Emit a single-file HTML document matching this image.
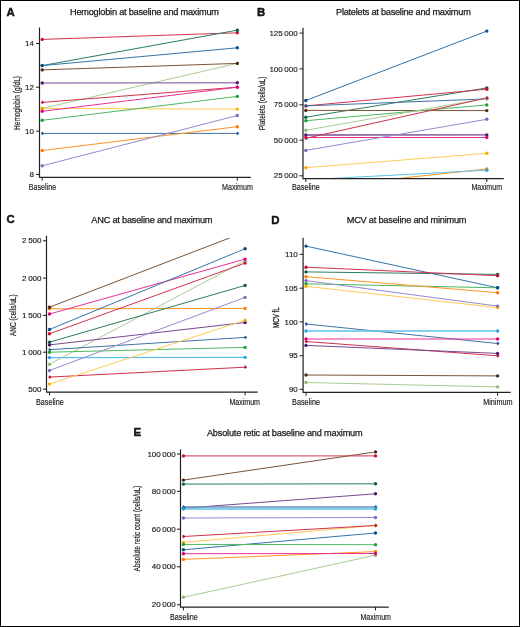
<!DOCTYPE html><html><head><meta charset="utf-8"><style>html,body{margin:0;padding:0;background:#fff;width:520px;height:627px;overflow:hidden}svg{display:block;will-change:transform}text{font-family:"Liberation Sans",sans-serif;fill:#1a1a1a}</style></head><body>
<svg width="520" height="627" viewBox="0 0 520 627">
<rect x="0" y="0" width="520" height="627" fill="#fff"/>
<clipPath id="c0"><rect x="39.5" y="29.8" width="211.3" height="147.5"/></clipPath>
<g clip-path="url(#c0)">
<line x1="42.2" y1="108.4" x2="237.3" y2="63.4" stroke="#a9cc92" stroke-width="1.0"/>
<line x1="42.2" y1="39.4" x2="237.3" y2="32.8" stroke="#d43350" stroke-width="1.0"/>
<line x1="42.2" y1="65.6" x2="237.3" y2="30.2" stroke="#2a7d62" stroke-width="1.0"/>
<line x1="42.2" y1="65.6" x2="237.3" y2="47.8" stroke="#3573a8" stroke-width="1.0"/>
<line x1="42.2" y1="69.9" x2="237.3" y2="63.4" stroke="#7a5538" stroke-width="1.0"/>
<line x1="42.2" y1="83.0" x2="237.3" y2="82.8" stroke="#76488f" stroke-width="1.0"/>
<line x1="42.2" y1="102.4" x2="237.3" y2="87.2" stroke="#d0304c" stroke-width="1.0"/>
<line x1="42.2" y1="108.4" x2="237.3" y2="109.1" stroke="#ffcc55" stroke-width="1.0"/>
<line x1="42.2" y1="111.3" x2="237.3" y2="87.2" stroke="#ee2f96" stroke-width="1.0"/>
<line x1="42.2" y1="120.3" x2="237.3" y2="96.4" stroke="#4cb860" stroke-width="1.0"/>
<line x1="42.2" y1="133.4" x2="237.3" y2="133.4" stroke="#3f73a3" stroke-width="1.0"/>
<line x1="42.2" y1="150.5" x2="237.3" y2="126.7" stroke="#ff9424" stroke-width="1.0"/>
<line x1="42.2" y1="165.8" x2="237.3" y2="115.5" stroke="#948ad0" stroke-width="1.0"/>
</g>
<circle cx="42.2" cy="108.4" r="1.7" fill="#8db87a"/>
<circle cx="237.3" cy="63.4" r="1.7" fill="#8db87a"/>
<circle cx="42.2" cy="39.4" r="1.7" fill="#c8102e"/>
<circle cx="237.3" cy="32.8" r="1.7" fill="#c8102e"/>
<circle cx="42.2" cy="65.6" r="1.7" fill="#0b5e45"/>
<circle cx="237.3" cy="30.2" r="1.7" fill="#0b5e45"/>
<circle cx="42.2" cy="65.6" r="1.7" fill="#0d4a8a"/>
<circle cx="237.3" cy="47.8" r="1.7" fill="#0d4a8a"/>
<circle cx="42.2" cy="69.9" r="1.7" fill="#4a2a14"/>
<circle cx="237.3" cy="63.4" r="1.7" fill="#4a2a14"/>
<circle cx="42.2" cy="83.0" r="1.7" fill="#4b1a6e"/>
<circle cx="237.3" cy="82.8" r="1.7" fill="#4b1a6e"/>
<path d="M44.300000000000004 102.4 L42.2 100.5 L41.0 102.4 L42.2 104.30000000000001 Z" fill="#c0143a"/>
<path d="M239.4 87.2 L237.3 85.3 L236.10000000000002 87.2 L237.3 89.10000000000001 Z" fill="#c0143a"/>
<circle cx="42.2" cy="108.4" r="1.7" fill="#f7b000"/>
<circle cx="237.3" cy="109.1" r="1.7" fill="#f7b000"/>
<circle cx="42.2" cy="111.3" r="1.7" fill="#e0007a"/>
<circle cx="237.3" cy="87.2" r="1.7" fill="#e0007a"/>
<circle cx="42.2" cy="120.3" r="1.7" fill="#18a030"/>
<circle cx="237.3" cy="96.4" r="1.7" fill="#18a030"/>
<path d="M44.300000000000004 133.4 L42.2 131.5 L41.0 133.4 L42.2 135.3 Z" fill="#1f5a96"/>
<path d="M239.4 133.4 L237.3 131.5 L236.10000000000002 133.4 L237.3 135.3 Z" fill="#1f5a96"/>
<circle cx="42.2" cy="150.5" r="1.7" fill="#ff7a00"/>
<circle cx="237.3" cy="126.7" r="1.7" fill="#ff7a00"/>
<circle cx="42.2" cy="165.8" r="1.7" fill="#7a6cc0"/>
<circle cx="237.3" cy="115.5" r="1.7" fill="#7a6cc0"/>
<path d="M39.5 27.5 V177.3 H250.8" fill="none" stroke="#222" stroke-width="1.2"/>
<line x1="36.0" y1="43.5" x2="39.5" y2="43.5" stroke="#1a1a1a" stroke-width="1"/>
<text x="34.0" y="46.1" font-size="8.0" stroke="#1a1a1a" stroke-width="0.15" text-anchor="end">14</text>
<line x1="36.0" y1="87.2" x2="39.5" y2="87.2" stroke="#1a1a1a" stroke-width="1"/>
<text x="34.0" y="89.8" font-size="8.0" stroke="#1a1a1a" stroke-width="0.15" text-anchor="end">12</text>
<line x1="36.0" y1="131.1" x2="39.5" y2="131.1" stroke="#1a1a1a" stroke-width="1"/>
<text x="34.0" y="133.7" font-size="8.0" stroke="#1a1a1a" stroke-width="0.15" text-anchor="end">10</text>
<line x1="36.0" y1="174.4" x2="39.5" y2="174.4" stroke="#1a1a1a" stroke-width="1"/>
<text x="34.0" y="177.0" font-size="8.0" stroke="#1a1a1a" stroke-width="0.15" text-anchor="end">8</text>
<line x1="42.2" y1="177.3" x2="42.2" y2="180.60000000000002" stroke="#1a1a1a" stroke-width="1"/>
<line x1="237.3" y1="177.3" x2="237.3" y2="180.60000000000002" stroke="#1a1a1a" stroke-width="1"/>
<text x="28.8" y="189.8" font-size="8.2" stroke="#1a1a1a" stroke-width="0.15" textLength="27.400000000000002" lengthAdjust="spacingAndGlyphs">Baseline</text>
<text x="222.1" y="189.8" font-size="8.2" stroke="#1a1a1a" stroke-width="0.15" textLength="30.700000000000017" lengthAdjust="spacingAndGlyphs">Maximum</text>
<text x="70" y="15.0" font-size="9.2" stroke="#1a1a1a" stroke-width="0.25" textLength="149" lengthAdjust="spacing">Hemoglobin at baseline and maximum</text>
<text x="6.6000000000000005" y="15.8" font-size="11.4" font-weight="bold" fill="#000" stroke="#000" stroke-width="0.4">A</text>
<text x="0" y="0" font-size="9.2" stroke="#1a1a1a" stroke-width="0.2" text-anchor="middle" textLength="54" lengthAdjust="spacingAndGlyphs" transform="translate(20.0 103.0) rotate(-90)">Hemoglobin (g/dL)</text>
<clipPath id="c1"><rect x="303.0" y="30.1" width="200.8" height="148.59999999999997"/></clipPath>
<g clip-path="url(#c1)">
<line x1="305.8" y1="117.2" x2="486.8" y2="87.9" stroke="#2a7d62" stroke-width="1.0"/>
<line x1="305.8" y1="100.5" x2="486.8" y2="31.1" stroke="#3573a8" stroke-width="1.0"/>
<line x1="305.8" y1="105.9" x2="486.8" y2="89.2" stroke="#d43350" stroke-width="1.0"/>
<line x1="305.8" y1="105.9" x2="486.8" y2="98.9" stroke="#3f73a3" stroke-width="1.0"/>
<line x1="305.8" y1="110.4" x2="486.8" y2="110.6" stroke="#7a5538" stroke-width="1.0"/>
<line x1="305.8" y1="120.7" x2="486.8" y2="104.9" stroke="#4cb860" stroke-width="1.0"/>
<line x1="305.8" y1="130.3" x2="486.8" y2="98.3" stroke="#a9cc92" stroke-width="1.0"/>
<line x1="305.8" y1="135.0" x2="486.8" y2="134.9" stroke="#76488f" stroke-width="1.3"/>
<line x1="305.8" y1="137.5" x2="486.8" y2="137.5" stroke="#ee2f96" stroke-width="1.0"/>
<line x1="305.8" y1="138.3" x2="486.8" y2="97.9" stroke="#d0304c" stroke-width="1.0"/>
<line x1="305.8" y1="150.4" x2="486.8" y2="119.3" stroke="#948ad0" stroke-width="1.0"/>
<line x1="305.8" y1="167.7" x2="486.8" y2="153.3" stroke="#ffcc55" stroke-width="1.0"/>
<line x1="305.8" y1="188.3" x2="486.8" y2="169.0" stroke="#ff9424" stroke-width="1.0"/>
<line x1="305.8" y1="179.8" x2="486.8" y2="170.2" stroke="#5cc0ec" stroke-width="1.0"/>
</g>
<circle cx="305.8" cy="117.2" r="1.7" fill="#0b5e45"/>
<circle cx="486.8" cy="87.9" r="1.7" fill="#0b5e45"/>
<circle cx="305.8" cy="100.5" r="1.7" fill="#0d4a8a"/>
<circle cx="486.8" cy="31.1" r="1.7" fill="#0d4a8a"/>
<circle cx="305.8" cy="105.9" r="1.7" fill="#c8102e"/>
<circle cx="486.8" cy="89.2" r="1.7" fill="#c8102e"/>
<path d="M307.90000000000003 105.9 L305.8 104.0 L304.6 105.9 L305.8 107.80000000000001 Z" fill="#1f5a96"/>
<path d="M488.90000000000003 98.9 L486.8 97.0 L485.6 98.9 L486.8 100.80000000000001 Z" fill="#1f5a96"/>
<circle cx="305.8" cy="110.4" r="1.7" fill="#4a2a14"/>
<circle cx="486.8" cy="110.6" r="1.7" fill="#4a2a14"/>
<circle cx="305.8" cy="120.7" r="1.7" fill="#18a030"/>
<circle cx="486.8" cy="104.9" r="1.7" fill="#18a030"/>
<circle cx="305.8" cy="130.3" r="1.7" fill="#8db87a"/>
<circle cx="486.8" cy="98.3" r="1.7" fill="#8db87a"/>
<circle cx="305.8" cy="135.0" r="1.7" fill="#4b1a6e"/>
<circle cx="486.8" cy="134.9" r="1.7" fill="#4b1a6e"/>
<circle cx="305.8" cy="137.5" r="1.7" fill="#e0007a"/>
<circle cx="486.8" cy="137.5" r="1.7" fill="#e0007a"/>
<path d="M307.90000000000003 138.3 L305.8 136.4 L304.6 138.3 L305.8 140.20000000000002 Z" fill="#c0143a"/>
<path d="M488.90000000000003 97.9 L486.8 96.0 L485.6 97.9 L486.8 99.80000000000001 Z" fill="#c0143a"/>
<circle cx="305.8" cy="150.4" r="1.7" fill="#7a6cc0"/>
<circle cx="486.8" cy="119.3" r="1.7" fill="#7a6cc0"/>
<circle cx="305.8" cy="167.7" r="1.7" fill="#f7b000"/>
<circle cx="486.8" cy="153.3" r="1.7" fill="#f7b000"/>
<circle cx="486.8" cy="169.0" r="1.7" fill="#ff7a00"/>
<circle cx="486.8" cy="170.2" r="1.7" fill="#25a5e0"/>
<path d="M303.0 27.8 V178.7 H503.8" fill="none" stroke="#222" stroke-width="1.2"/>
<line x1="299.5" y1="33.1" x2="303.0" y2="33.1" stroke="#1a1a1a" stroke-width="1"/>
<text x="297.7" y="35.7" font-size="8.0" stroke="#1a1a1a" stroke-width="0.15" text-anchor="end">125&#8201;000</text>
<line x1="299.5" y1="68.9" x2="303.0" y2="68.9" stroke="#1a1a1a" stroke-width="1"/>
<text x="297.7" y="71.5" font-size="8.0" stroke="#1a1a1a" stroke-width="0.15" text-anchor="end">100&#8201;000</text>
<line x1="299.5" y1="104.8" x2="303.0" y2="104.8" stroke="#1a1a1a" stroke-width="1"/>
<text x="297.7" y="107.39999999999999" font-size="8.0" stroke="#1a1a1a" stroke-width="0.15" text-anchor="end">75&#8201;000</text>
<line x1="299.5" y1="140.2" x2="303.0" y2="140.2" stroke="#1a1a1a" stroke-width="1"/>
<text x="297.7" y="142.79999999999998" font-size="8.0" stroke="#1a1a1a" stroke-width="0.15" text-anchor="end">50&#8201;000</text>
<line x1="299.5" y1="175.8" x2="303.0" y2="175.8" stroke="#1a1a1a" stroke-width="1"/>
<text x="297.7" y="178.4" font-size="8.0" stroke="#1a1a1a" stroke-width="0.15" text-anchor="end">25&#8201;000</text>
<line x1="305.8" y1="178.7" x2="305.8" y2="182.0" stroke="#1a1a1a" stroke-width="1"/>
<line x1="486.8" y1="178.7" x2="486.8" y2="182.0" stroke="#1a1a1a" stroke-width="1"/>
<text x="292.0" y="189.8" font-size="8.2" stroke="#1a1a1a" stroke-width="0.15" textLength="27.80000000000001" lengthAdjust="spacingAndGlyphs">Baseline</text>
<text x="471.5" y="189.8" font-size="8.2" stroke="#1a1a1a" stroke-width="0.15" textLength="30.5" lengthAdjust="spacingAndGlyphs">Maximum</text>
<text x="336" y="14.8" font-size="9.2" stroke="#1a1a1a" stroke-width="0.25" textLength="134.8" lengthAdjust="spacing">Platelets at baseline and maximum</text>
<text x="257.0" y="15.8" font-size="11.4" font-weight="bold" fill="#000" stroke="#000" stroke-width="0.4">B</text>
<text x="0" y="0" font-size="9.2" stroke="#1a1a1a" stroke-width="0.2" text-anchor="middle" textLength="53.5" lengthAdjust="spacingAndGlyphs" transform="translate(265.0 103.4) rotate(-90)">Platelets (cells/uL)</text>
<clipPath id="c2"><rect x="46.5" y="238.0" width="211.10000000000002" height="154.10000000000002"/></clipPath>
<g clip-path="url(#c2)">
<line x1="49.5" y1="364.2" x2="245.1" y2="260.7" stroke="#a9cc92" stroke-width="1.0"/>
<line x1="49.5" y1="308.8" x2="245.1" y2="308.4" stroke="#ff9424" stroke-width="1.0"/>
<line x1="49.5" y1="307.2" x2="245.1" y2="232.0" stroke="#7a5538" stroke-width="1.0"/>
<line x1="49.5" y1="314.0" x2="245.1" y2="259.1" stroke="#ee2f96" stroke-width="1.0"/>
<line x1="49.5" y1="329.5" x2="245.1" y2="248.7" stroke="#3573a8" stroke-width="1.0"/>
<line x1="49.5" y1="333.8" x2="245.1" y2="263.1" stroke="#d43350" stroke-width="1.0"/>
<line x1="49.5" y1="342.2" x2="245.1" y2="285.4" stroke="#2a7d62" stroke-width="1.0"/>
<line x1="49.5" y1="344.9" x2="245.1" y2="322.5" stroke="#76488f" stroke-width="1.0"/>
<line x1="49.5" y1="349.7" x2="245.1" y2="337.4" stroke="#3f73a3" stroke-width="1.0"/>
<line x1="49.5" y1="352.2" x2="245.1" y2="347.4" stroke="#4cb860" stroke-width="1.0"/>
<line x1="49.5" y1="357.6" x2="245.1" y2="357.4" stroke="#5cc0ec" stroke-width="1.3"/>
<line x1="49.5" y1="370.5" x2="245.1" y2="297.4" stroke="#948ad0" stroke-width="1.0"/>
<line x1="49.5" y1="377.1" x2="245.1" y2="367.2" stroke="#d0304c" stroke-width="1.0"/>
<line x1="49.5" y1="384.1" x2="245.1" y2="320.2" stroke="#ffcc55" stroke-width="1.0"/>
</g>
<circle cx="49.5" cy="364.2" r="1.7" fill="#8db87a"/>
<circle cx="245.1" cy="260.7" r="1.7" fill="#8db87a"/>
<circle cx="49.5" cy="308.8" r="1.7" fill="#ff7a00"/>
<circle cx="245.1" cy="308.4" r="1.7" fill="#ff7a00"/>
<circle cx="49.5" cy="307.2" r="1.7" fill="#4a2a14"/>
<circle cx="49.5" cy="314.0" r="1.7" fill="#e0007a"/>
<circle cx="245.1" cy="259.1" r="1.7" fill="#e0007a"/>
<circle cx="49.5" cy="329.5" r="1.7" fill="#0d4a8a"/>
<circle cx="245.1" cy="248.7" r="1.7" fill="#0d4a8a"/>
<circle cx="49.5" cy="333.8" r="1.7" fill="#c8102e"/>
<circle cx="245.1" cy="263.1" r="1.7" fill="#c8102e"/>
<circle cx="49.5" cy="342.2" r="1.7" fill="#0b5e45"/>
<circle cx="245.1" cy="285.4" r="1.7" fill="#0b5e45"/>
<circle cx="49.5" cy="344.9" r="1.7" fill="#4b1a6e"/>
<circle cx="245.1" cy="322.5" r="1.7" fill="#4b1a6e"/>
<path d="M51.6 349.7 L49.5 347.8 L48.3 349.7 L49.5 351.59999999999997 Z" fill="#1f5a96"/>
<path d="M247.2 337.4 L245.1 335.5 L243.9 337.4 L245.1 339.29999999999995 Z" fill="#1f5a96"/>
<circle cx="49.5" cy="352.2" r="1.7" fill="#18a030"/>
<circle cx="245.1" cy="347.4" r="1.7" fill="#18a030"/>
<circle cx="49.5" cy="357.6" r="1.7" fill="#25a5e0"/>
<circle cx="245.1" cy="357.4" r="1.7" fill="#25a5e0"/>
<circle cx="49.5" cy="370.5" r="1.7" fill="#7a6cc0"/>
<circle cx="245.1" cy="297.4" r="1.7" fill="#7a6cc0"/>
<path d="M51.6 377.1 L49.5 375.20000000000005 L48.3 377.1 L49.5 379.0 Z" fill="#c0143a"/>
<path d="M247.2 367.2 L245.1 365.3 L243.9 367.2 L245.1 369.09999999999997 Z" fill="#c0143a"/>
<circle cx="49.5" cy="384.1" r="1.7" fill="#f7b000"/>
<circle cx="245.1" cy="320.2" r="1.7" fill="#f7b000"/>
<path d="M46.5 235.7 V392.1 H257.6" fill="none" stroke="#222" stroke-width="1.2"/>
<line x1="43.0" y1="240.8" x2="46.5" y2="240.8" stroke="#1a1a1a" stroke-width="1"/>
<text x="41.5" y="243.4" font-size="8.0" stroke="#1a1a1a" stroke-width="0.15" text-anchor="end">2&#8201;500</text>
<line x1="43.0" y1="278.1" x2="46.5" y2="278.1" stroke="#1a1a1a" stroke-width="1"/>
<text x="41.5" y="280.70000000000005" font-size="8.0" stroke="#1a1a1a" stroke-width="0.15" text-anchor="end">2&#8201;000</text>
<line x1="43.0" y1="315.4" x2="46.5" y2="315.4" stroke="#1a1a1a" stroke-width="1"/>
<text x="41.5" y="318.0" font-size="8.0" stroke="#1a1a1a" stroke-width="0.15" text-anchor="end">1&#8201;500</text>
<line x1="43.0" y1="352.2" x2="46.5" y2="352.2" stroke="#1a1a1a" stroke-width="1"/>
<text x="41.5" y="354.8" font-size="8.0" stroke="#1a1a1a" stroke-width="0.15" text-anchor="end">1&#8201;000</text>
<line x1="43.0" y1="389.2" x2="46.5" y2="389.2" stroke="#1a1a1a" stroke-width="1"/>
<text x="41.5" y="391.8" font-size="8.0" stroke="#1a1a1a" stroke-width="0.15" text-anchor="end">500</text>
<line x1="49.5" y1="392.1" x2="49.5" y2="395.40000000000003" stroke="#1a1a1a" stroke-width="1"/>
<line x1="245.1" y1="392.1" x2="245.1" y2="395.40000000000003" stroke="#1a1a1a" stroke-width="1"/>
<text x="36.0" y="404.8" font-size="8.2" stroke="#1a1a1a" stroke-width="0.15" textLength="27.799999999999997" lengthAdjust="spacingAndGlyphs">Baseline</text>
<text x="229.4" y="404.8" font-size="8.2" stroke="#1a1a1a" stroke-width="0.15" textLength="30.599999999999994" lengthAdjust="spacingAndGlyphs">Maximum</text>
<text x="91.3" y="222.5" font-size="9.2" stroke="#1a1a1a" stroke-width="0.25" textLength="121.2" lengthAdjust="spacing">ANC at baseline and maximum</text>
<text x="6.6000000000000005" y="223.4" font-size="11.4" font-weight="bold" fill="#000" stroke="#000" stroke-width="0.4">C</text>
<text x="0" y="0" font-size="9.2" stroke="#1a1a1a" stroke-width="0.2" text-anchor="middle" textLength="41.5" lengthAdjust="spacingAndGlyphs" transform="translate(15.700000000000001 315.2) rotate(-90)">ANC (cells/uL)</text>
<clipPath id="c3"><rect x="303.1" y="240.0" width="207.59999999999997" height="152.39999999999998"/></clipPath>
<g clip-path="url(#c3)">
<line x1="306.0" y1="283.8" x2="497.6" y2="287.8" stroke="#4cb860" stroke-width="1.0"/>
<line x1="306.0" y1="286.3" x2="497.6" y2="307.6" stroke="#ffcc55" stroke-width="1.0"/>
<line x1="306.0" y1="271.9" x2="497.6" y2="274.4" stroke="#2a7d62" stroke-width="1.0"/>
<line x1="306.0" y1="246.1" x2="497.6" y2="287.8" stroke="#3573a8" stroke-width="1.0"/>
<line x1="306.0" y1="267.2" x2="497.6" y2="275.7" stroke="#d43350" stroke-width="1.0"/>
<line x1="306.0" y1="276.7" x2="497.6" y2="292.7" stroke="#ff9424" stroke-width="1.0"/>
<line x1="306.0" y1="280.6" x2="497.6" y2="306.1" stroke="#948ad0" stroke-width="1.0"/>
<line x1="306.0" y1="324.0" x2="497.6" y2="343.5" stroke="#3f73a3" stroke-width="1.0"/>
<line x1="306.0" y1="331.0" x2="497.6" y2="331.0" stroke="#5cc0ec" stroke-width="1.4"/>
<line x1="306.0" y1="339.0" x2="497.6" y2="339.0" stroke="#ee2f96" stroke-width="1.0"/>
<line x1="306.0" y1="341.5" x2="497.6" y2="355.8" stroke="#d0304c" stroke-width="1.0"/>
<line x1="306.0" y1="345.4" x2="497.6" y2="353.4" stroke="#76488f" stroke-width="1.0"/>
<line x1="306.0" y1="375.0" x2="497.6" y2="375.9" stroke="#7a5538" stroke-width="1.0"/>
<line x1="306.0" y1="382.5" x2="497.6" y2="386.9" stroke="#a9cc92" stroke-width="1.0"/>
</g>
<circle cx="306.0" cy="283.8" r="1.7" fill="#18a030"/>
<circle cx="497.6" cy="287.8" r="1.7" fill="#18a030"/>
<circle cx="306.0" cy="286.3" r="1.7" fill="#f7b000"/>
<circle cx="497.6" cy="307.6" r="1.7" fill="#f7b000"/>
<circle cx="306.0" cy="271.9" r="1.7" fill="#0b5e45"/>
<circle cx="497.6" cy="274.4" r="1.7" fill="#0b5e45"/>
<circle cx="306.0" cy="246.1" r="1.7" fill="#0d4a8a"/>
<circle cx="497.6" cy="287.8" r="1.7" fill="#0d4a8a"/>
<circle cx="306.0" cy="267.2" r="1.7" fill="#c8102e"/>
<circle cx="497.6" cy="275.7" r="1.7" fill="#c8102e"/>
<circle cx="306.0" cy="276.7" r="1.7" fill="#ff7a00"/>
<circle cx="497.6" cy="292.7" r="1.7" fill="#ff7a00"/>
<circle cx="306.0" cy="280.6" r="1.7" fill="#7a6cc0"/>
<circle cx="497.6" cy="306.1" r="1.7" fill="#7a6cc0"/>
<path d="M308.1 324.0 L306.0 322.1 L304.8 324.0 L306.0 325.9 Z" fill="#1f5a96"/>
<path d="M499.70000000000005 343.5 L497.6 341.6 L496.40000000000003 343.5 L497.6 345.4 Z" fill="#1f5a96"/>
<circle cx="306.0" cy="331.0" r="1.7" fill="#25a5e0"/>
<circle cx="497.6" cy="331.0" r="1.7" fill="#25a5e0"/>
<circle cx="306.0" cy="339.0" r="1.7" fill="#e0007a"/>
<circle cx="497.6" cy="339.0" r="1.7" fill="#e0007a"/>
<path d="M308.1 341.5 L306.0 339.6 L304.8 341.5 L306.0 343.4 Z" fill="#c0143a"/>
<path d="M499.70000000000005 355.8 L497.6 353.90000000000003 L496.40000000000003 355.8 L497.6 357.7 Z" fill="#c0143a"/>
<circle cx="306.0" cy="345.4" r="1.7" fill="#4b1a6e"/>
<circle cx="497.6" cy="353.4" r="1.7" fill="#4b1a6e"/>
<circle cx="306.0" cy="375.0" r="1.7" fill="#4a2a14"/>
<circle cx="497.6" cy="375.9" r="1.7" fill="#4a2a14"/>
<circle cx="306.0" cy="382.5" r="1.7" fill="#8db87a"/>
<circle cx="497.6" cy="386.9" r="1.7" fill="#8db87a"/>
<path d="M303.1 237.7 V392.4 H510.7" fill="none" stroke="#222" stroke-width="1.2"/>
<line x1="299.6" y1="254.3" x2="303.1" y2="254.3" stroke="#1a1a1a" stroke-width="1"/>
<text x="297.8" y="256.90000000000003" font-size="8.0" stroke="#1a1a1a" stroke-width="0.15" text-anchor="end">110</text>
<line x1="299.6" y1="288.2" x2="303.1" y2="288.2" stroke="#1a1a1a" stroke-width="1"/>
<text x="297.8" y="290.8" font-size="8.0" stroke="#1a1a1a" stroke-width="0.15" text-anchor="end">105</text>
<line x1="299.6" y1="321.9" x2="303.1" y2="321.9" stroke="#1a1a1a" stroke-width="1"/>
<text x="297.8" y="324.5" font-size="8.0" stroke="#1a1a1a" stroke-width="0.15" text-anchor="end">100</text>
<line x1="299.6" y1="355.7" x2="303.1" y2="355.7" stroke="#1a1a1a" stroke-width="1"/>
<text x="297.8" y="358.3" font-size="8.0" stroke="#1a1a1a" stroke-width="0.15" text-anchor="end">95</text>
<line x1="299.6" y1="389.3" x2="303.1" y2="389.3" stroke="#1a1a1a" stroke-width="1"/>
<text x="297.8" y="391.90000000000003" font-size="8.0" stroke="#1a1a1a" stroke-width="0.15" text-anchor="end">90</text>
<line x1="306.0" y1="392.4" x2="306.0" y2="395.7" stroke="#1a1a1a" stroke-width="1"/>
<line x1="497.6" y1="392.4" x2="497.6" y2="395.7" stroke="#1a1a1a" stroke-width="1"/>
<text x="292.1" y="404.8" font-size="8.2" stroke="#1a1a1a" stroke-width="0.15" textLength="27.899999999999977" lengthAdjust="spacingAndGlyphs">Baseline</text>
<text x="483.2" y="404.8" font-size="8.2" stroke="#1a1a1a" stroke-width="0.15" textLength="29.400000000000034" lengthAdjust="spacingAndGlyphs">Minimum</text>
<text x="346.7" y="222.5" font-size="9.2" stroke="#1a1a1a" stroke-width="0.25" textLength="119.80000000000001" lengthAdjust="spacing">MCV at baseline and minimum</text>
<text x="271.3" y="223.5" font-size="11.4" font-weight="bold" fill="#000" stroke="#000" stroke-width="0.4">D</text>
<text x="0" y="0" font-size="9.5" stroke="#1a1a1a" stroke-width="0.35" text-anchor="middle" textLength="20.6" lengthAdjust="spacingAndGlyphs" transform="translate(278.79999999999995 317.6) rotate(-90)">MCV fL</text>
<clipPath id="c4"><rect x="180.5" y="451.8" width="208.2" height="155.3"/></clipPath>
<g clip-path="url(#c4)">
<line x1="183.4" y1="597.3" x2="375.5" y2="555.2" stroke="#a9cc92" stroke-width="1.0"/>
<line x1="183.4" y1="455.9" x2="375.5" y2="455.9" stroke="#d43350" stroke-width="1.0"/>
<line x1="183.4" y1="480.1" x2="375.5" y2="451.9" stroke="#7a5538" stroke-width="1.0"/>
<line x1="183.4" y1="484.1" x2="375.5" y2="483.8" stroke="#2a7d62" stroke-width="1.0"/>
<line x1="183.4" y1="508.2" x2="375.5" y2="493.8" stroke="#76488f" stroke-width="1.0"/>
<line x1="183.4" y1="507.0" x2="375.5" y2="507.0" stroke="#6a92b8" stroke-width="1.4"/>
<line x1="183.4" y1="509.0" x2="375.5" y2="509.0" stroke="#5cc0ec" stroke-width="1.7"/>
<line x1="183.4" y1="518.0" x2="375.5" y2="517.5" stroke="#948ad0" stroke-width="1.0"/>
<line x1="183.4" y1="542.4" x2="375.5" y2="525.5" stroke="#ffcc55" stroke-width="1.0"/>
<line x1="183.4" y1="536.5" x2="375.5" y2="525.5" stroke="#d0304c" stroke-width="1.0"/>
<line x1="183.4" y1="549.8" x2="375.5" y2="533.0" stroke="#3573a8" stroke-width="1.0"/>
<line x1="183.4" y1="544.4" x2="375.5" y2="544.7" stroke="#4cb860" stroke-width="1.0"/>
<line x1="183.4" y1="559.4" x2="375.5" y2="551.6" stroke="#ff9424" stroke-width="1.0"/>
<line x1="183.4" y1="553.7" x2="375.5" y2="553.5" stroke="#ee2f96" stroke-width="1.0"/>
</g>
<circle cx="183.4" cy="597.3" r="1.7" fill="#8db87a"/>
<circle cx="375.5" cy="555.2" r="1.7" fill="#8db87a"/>
<circle cx="183.4" cy="455.9" r="1.7" fill="#c8102e"/>
<circle cx="375.5" cy="455.9" r="1.7" fill="#c8102e"/>
<circle cx="183.4" cy="480.1" r="1.7" fill="#4a2a14"/>
<circle cx="375.5" cy="451.9" r="1.7" fill="#4a2a14"/>
<circle cx="183.4" cy="484.1" r="1.7" fill="#0b5e45"/>
<circle cx="375.5" cy="483.8" r="1.7" fill="#0b5e45"/>
<circle cx="183.4" cy="508.2" r="1.7" fill="#4b1a6e"/>
<circle cx="375.5" cy="493.8" r="1.7" fill="#4b1a6e"/>
<path d="M185.5 507.0 L183.4 505.1 L182.20000000000002 507.0 L183.4 508.9 Z" fill="#1f5a96"/>
<path d="M377.6 507.0 L375.5 505.1 L374.3 507.0 L375.5 508.9 Z" fill="#1f5a96"/>
<circle cx="183.4" cy="509.0" r="1.7" fill="#25a5e0"/>
<circle cx="375.5" cy="509.0" r="1.7" fill="#25a5e0"/>
<circle cx="183.4" cy="518.0" r="1.7" fill="#7a6cc0"/>
<circle cx="375.5" cy="517.5" r="1.7" fill="#7a6cc0"/>
<circle cx="183.4" cy="542.4" r="1.7" fill="#f7b000"/>
<circle cx="375.5" cy="525.5" r="1.7" fill="#f7b000"/>
<path d="M185.5 536.5 L183.4 534.6 L182.20000000000002 536.5 L183.4 538.4 Z" fill="#c0143a"/>
<path d="M377.6 525.5 L375.5 523.6 L374.3 525.5 L375.5 527.4 Z" fill="#c0143a"/>
<circle cx="183.4" cy="549.8" r="1.7" fill="#0d4a8a"/>
<circle cx="375.5" cy="533.0" r="1.7" fill="#0d4a8a"/>
<circle cx="183.4" cy="544.4" r="1.7" fill="#18a030"/>
<circle cx="375.5" cy="544.7" r="1.7" fill="#18a030"/>
<circle cx="183.4" cy="559.4" r="1.7" fill="#ff7a00"/>
<circle cx="375.5" cy="551.6" r="1.7" fill="#ff7a00"/>
<circle cx="183.4" cy="553.7" r="1.7" fill="#e0007a"/>
<circle cx="375.5" cy="553.5" r="1.7" fill="#e0007a"/>
<path d="M180.5 449.5 V607.1 H388.7" fill="none" stroke="#222" stroke-width="1.2"/>
<line x1="177.0" y1="454.0" x2="180.5" y2="454.0" stroke="#1a1a1a" stroke-width="1"/>
<text x="175.7" y="456.6" font-size="8.0" stroke="#1a1a1a" stroke-width="0.15" text-anchor="end">100&#8201;000</text>
<line x1="177.0" y1="491.3" x2="180.5" y2="491.3" stroke="#1a1a1a" stroke-width="1"/>
<text x="175.7" y="493.90000000000003" font-size="8.0" stroke="#1a1a1a" stroke-width="0.15" text-anchor="end">80&#8201;000</text>
<line x1="177.0" y1="529.2" x2="180.5" y2="529.2" stroke="#1a1a1a" stroke-width="1"/>
<text x="175.7" y="531.8000000000001" font-size="8.0" stroke="#1a1a1a" stroke-width="0.15" text-anchor="end">60&#8201;000</text>
<line x1="177.0" y1="566.8" x2="180.5" y2="566.8" stroke="#1a1a1a" stroke-width="1"/>
<text x="175.7" y="569.4" font-size="8.0" stroke="#1a1a1a" stroke-width="0.15" text-anchor="end">40&#8201;000</text>
<line x1="177.0" y1="604.8" x2="180.5" y2="604.8" stroke="#1a1a1a" stroke-width="1"/>
<text x="175.7" y="607.4" font-size="8.0" stroke="#1a1a1a" stroke-width="0.15" text-anchor="end">20&#8201;000</text>
<line x1="183.4" y1="607.1" x2="183.4" y2="610.4" stroke="#1a1a1a" stroke-width="1"/>
<line x1="375.5" y1="607.1" x2="375.5" y2="610.4" stroke="#1a1a1a" stroke-width="1"/>
<text x="170.0" y="619.8" font-size="8.2" stroke="#1a1a1a" stroke-width="0.15" textLength="27.80000000000001" lengthAdjust="spacingAndGlyphs">Baseline</text>
<text x="360.4" y="619.8" font-size="8.2" stroke="#1a1a1a" stroke-width="0.15" textLength="30.600000000000023" lengthAdjust="spacingAndGlyphs">Maximum</text>
<text x="206.9" y="435.6" font-size="9.2" stroke="#1a1a1a" stroke-width="0.25" textLength="155.79999999999998" lengthAdjust="spacing">Absolute retic at baseline and maximum</text>
<text x="133.5" y="436.2" font-size="11.4" font-weight="bold" fill="#000" stroke="#000" stroke-width="0.4">E</text>
<text x="0" y="0" font-size="9.2" stroke="#1a1a1a" stroke-width="0.2" text-anchor="middle" textLength="86" lengthAdjust="spacingAndGlyphs" transform="translate(140.20000000000002 528.5) rotate(-90)">Absolute retic count (cells/uL)</text>
<rect x="0.5" y="0.5" width="519" height="626" fill="none" stroke="#000" stroke-width="1"/>
</svg></body></html>
